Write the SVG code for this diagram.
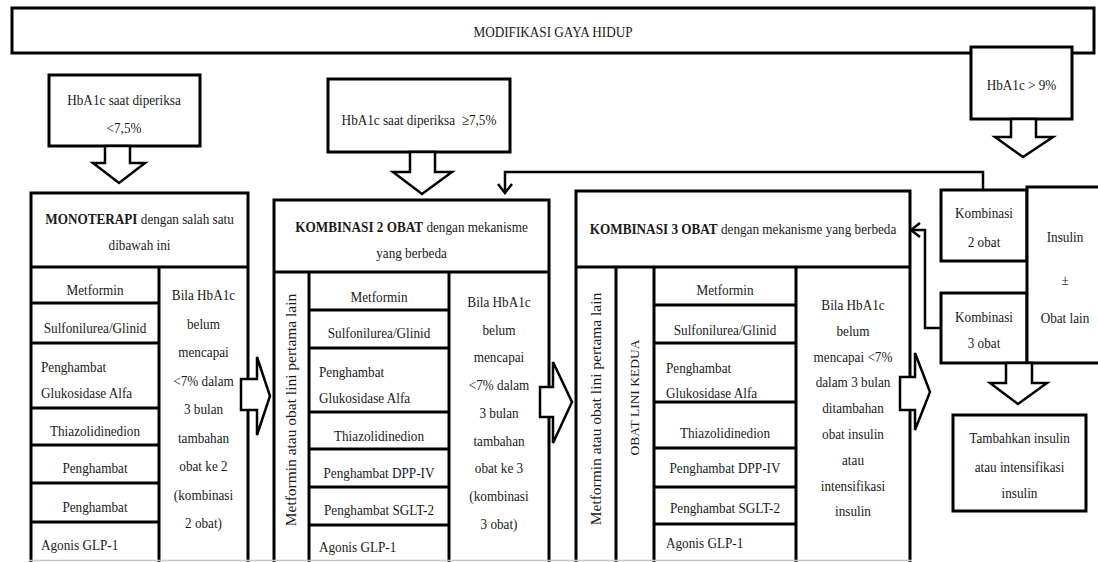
<svg xmlns="http://www.w3.org/2000/svg" width="1098" height="562" viewBox="0 0 1098 562">
<style>
.box{fill:#fff;stroke:#000;stroke-width:3}
.ln{stroke:#000;stroke-width:3;fill:none}
.arr{fill:#fff;stroke:#000;stroke-width:2.5;stroke-linejoin:miter}
.fb{fill:none;stroke:#000;stroke-width:2.5}
text{font-family:"Liberation Serif","Times New Roman",serif;font-size:15px;fill:#1a1a1a;text-anchor:middle}
.l{text-anchor:start}
.b{font-weight:bold}
.v{font-size:15.5px}
.vs{font-size:13.5px}
.pre{white-space:pre}
</style>
<rect x="0" y="0" width="1098" height="562" fill="#fff"/>

<g id="top">
<rect class="box" x="12" y="8" width="1082" height="45"/>
<text transform="translate(553,37) scale(0.88,1)">MODIFIKASI GAYA HIDUP</text>
</g>

<g id="hba-9">
<rect class="box" x="971" y="47" width="101" height="72"/>
<text transform="translate(1021.5,90) scale(0.88,1)">HbA1c &gt; 9%</text>
</g>

<g id="hba-lt">
<rect class="box" x="49" y="75" width="151" height="71"/>
<text transform="translate(124,105) scale(0.88,1)">HbA1c saat diperiksa</text>
<text transform="translate(124,133) scale(0.88,1)">&lt;7,5%</text>
</g>

<g id="hba-ge">
<rect class="box" x="328" y="79" width="182" height="73"/>
<text class="pre" transform="translate(419,125) scale(0.88,1)">HbA1c saat diperiksa  ≥7,5%</text>
</g>

<g id="mono">
<rect class="box" x="31" y="193" width="217" height="375"/>
<text transform="translate(139.5,224) scale(0.88,1)"><tspan class="b">MONOTERAPI</tspan> dengan salah satu</text>
<text transform="translate(139.5,250) scale(0.88,1)">dibawah ini</text>
<text transform="translate(95,295) scale(0.88,1)">Metformin</text>
<text transform="translate(95,333) scale(0.88,1)">Sulfonilurea/Glinid</text>
<text class="l" transform="translate(41,371.7) scale(0.88,1)">Penghambat</text>
<text class="l" transform="translate(41,398) scale(0.88,1)">Glukosidase Alfa</text>
<text transform="translate(95,435.7) scale(0.88,1)">Thiazolidinedion</text>
<text transform="translate(95,473) scale(0.88,1)">Penghambat</text>
<text transform="translate(95,511.7) scale(0.88,1)">Penghambat</text>
<text class="l" transform="translate(41,550) scale(0.88,1)">Agonis GLP-1</text>
<text transform="translate(203.5,300) scale(0.88,1)">Bila HbA1c</text>
<text transform="translate(203.5,328.5) scale(0.88,1)">belum</text>
<text transform="translate(203.5,357) scale(0.88,1)">mencapai</text>
<text transform="translate(203.5,385.5) scale(0.88,1)">&lt;7% dalam</text>
<text transform="translate(203.5,414) scale(0.88,1)">3 bulan</text>
<text transform="translate(203.5,442.5) scale(0.88,1)">tambahan</text>
<text transform="translate(203.5,471) scale(0.88,1)">obat ke 2</text>
<text transform="translate(203.5,499.5) scale(0.88,1)">(kombinasi</text>
<text transform="translate(203.5,528) scale(0.88,1)">2 obat)</text>
<path class="ln" d="M31 267H248M159 267V568M31 303H159M31 343H159M31 408H159M31 445H159M31 483H159M31 522H159"/>
</g>

<g id="komb2">
<rect class="box" x="274" y="200" width="275" height="368"/>
<text transform="translate(411.5,232) scale(0.88,1)"><tspan class="b">KOMBINASI 2 OBAT</tspan> dengan mekanisme</text>
<text transform="translate(411.5,258) scale(0.88,1)">yang berbeda</text>
<text class="v" transform="translate(296,410) scale(0.88,1) rotate(-90)">Metformin atau obat lini pertama lain</text>
<text transform="translate(379,301.7) scale(0.88,1)">Metformin</text>
<text transform="translate(379,338.3) scale(0.88,1)">Sulfonilurea/Glinid</text>
<text class="l" transform="translate(319,376.7) scale(0.88,1)">Penghambat</text>
<text class="l" transform="translate(319,403) scale(0.88,1)">Glukosidase Alfa</text>
<text transform="translate(379,441) scale(0.88,1)">Thiazolidinedion</text>
<text transform="translate(379,478.3) scale(0.88,1)">Penghambat DPP-IV</text>
<text transform="translate(379,515) scale(0.88,1)">Penghambat SGLT-2</text>
<text class="l" transform="translate(319,551.7) scale(0.88,1)">Agonis GLP-1</text>
<text transform="translate(499,307) scale(0.88,1)">Bila HbA1c</text>
<text transform="translate(499,334.7) scale(0.88,1)">belum</text>
<text transform="translate(499,362.4) scale(0.88,1)">mencapai</text>
<text transform="translate(499,390) scale(0.88,1)">&lt;7% dalam</text>
<text transform="translate(499,417.8) scale(0.88,1)">3 bulan</text>
<text transform="translate(499,445.5) scale(0.88,1)">tambahan</text>
<text transform="translate(499,473) scale(0.88,1)">obat ke 3</text>
<text transform="translate(499,501) scale(0.88,1)">(kombinasi</text>
<text transform="translate(499,528.5) scale(0.88,1)">3 obat)</text>
<path class="ln" d="M274 272H549M309 272V568M449 272V568M309 310H449M309 348H449M309 412H449M309 449H449M309 487H449M309 525H449"/>
</g>

<g id="komb3">
<rect class="box" x="576" y="191" width="334" height="377"/>
<text transform="translate(743,234) scale(0.88,1)"><tspan class="b">KOMBINASI 3 OBAT</tspan> dengan mekanisme yang berbeda</text>
<text class="v" transform="translate(600.5,409) scale(0.88,1) rotate(-90)">Metformin atau obat lini pertama lain</text>
<text class="vs" transform="translate(639,397.5) scale(0.88,1) rotate(-90)">OBAT LINI KEDUA</text>
<text transform="translate(725,295) scale(0.88,1)">Metformin</text>
<text transform="translate(725,335) scale(0.88,1)">Sulfonilurea/Glinid</text>
<text class="l" transform="translate(666,373.3) scale(0.88,1)">Penghambat</text>
<text class="l" transform="translate(666,398.3) scale(0.88,1)">Glukosidase Alfa</text>
<text transform="translate(725,438.3) scale(0.88,1)">Thiazolidinedion</text>
<text transform="translate(725,473.3) scale(0.88,1)">Penghambat DPP-IV</text>
<text transform="translate(725,513.3) scale(0.88,1)">Penghambat SGLT-2</text>
<text class="l" transform="translate(666,548.3) scale(0.88,1)">Agonis GLP-1</text>
<text transform="translate(853,310) scale(0.88,1)">Bila HbA1c</text>
<text transform="translate(853,335.8) scale(0.88,1)">belum</text>
<text transform="translate(853,361.6) scale(0.88,1)">mencapai &lt;7%</text>
<text transform="translate(853,387.4) scale(0.88,1)">dalam 3 bulan</text>
<text transform="translate(853,413.2) scale(0.88,1)">ditambahan</text>
<text transform="translate(853,439) scale(0.88,1)">obat insulin</text>
<text transform="translate(853,464.8) scale(0.88,1)">atau</text>
<text transform="translate(853,490.6) scale(0.88,1)">intensifikasi</text>
<text transform="translate(853,516.4) scale(0.88,1)">insulin</text>
<path class="ln" d="M576 267H910M616 267V568M654 267V568M796 267V568M654 305H796M654 343H796M654 402H796M654 448H796M654 487H796M654 524H796"/>
</g>

<g id="k2obat">
<rect class="box" x="941" y="190" width="86" height="71"/>
<text transform="translate(984,218) scale(0.88,1)">Kombinasi</text>
<text transform="translate(984,246.7) scale(0.88,1)">2 obat</text>
</g>

<g id="k3obat">
<rect class="box" x="941" y="293" width="86" height="70"/>
<text transform="translate(984,321.7) scale(0.88,1)">Kombinasi</text>
<text transform="translate(984,348.3) scale(0.88,1)">3 obat</text>
</g>

<g id="insulin">
<rect class="box" x="1027" y="187" width="80" height="176"/>
<text transform="translate(1065,241.7) scale(0.88,1)">Insulin</text>
<text transform="translate(1065,285) scale(0.88,1)">±</text>
<text transform="translate(1065,323) scale(0.88,1)">Obat lain</text>
</g>

<g id="tambah">
<rect class="box" x="953" y="415" width="133" height="96"/>
<text transform="translate(1019.5,443) scale(0.88,1)">Tambahkan insulin</text>
<text transform="translate(1019.5,471.7) scale(0.88,1)">atau intensifikasi</text>
<text transform="translate(1019.5,498.3) scale(0.88,1)">insulin</text>
</g>

<g id="connectors">
<polygon class="arr" points="105,146 130,146 130,163 145,163 119,183 93,163 105,163"/>
<polygon class="arr" points="410,152 435,152 435,172 452,172 422,194 393,172 410,172"/>
<polygon class="arr" points="1011,119 1036,119 1036,137 1053,137 1023,157 995,137 1011,137"/>
<polygon class="arr" points="1006,363 1032,363 1032,383 1047,383 1018,404 990,383 1006,383"/>
<polygon class="arr" points="241,379 257,379 257,357 270,396 257,435 257,410 241,410"/>
<polygon class="arr" points="540,387 553,387 553,362 572,402 553,443 553,417 540,417"/>
<polygon class="arr" points="900,377 915,377 915,353 930,392 915,430 915,410 900,410"/>
<polyline class="fb" points="983,190 983,172 505,172 505,192"/>
<polyline class="fb" points="498,184 505,193 512,184"/>
<polyline class="fb" points="941,328 925,328 925,230 912,230"/>
<polyline class="fb" points="920,223 911,230 920,237"/>
</g>
<line x1="28" y1="560.5" x2="912" y2="560.5" stroke="#c8c8c8" stroke-width="1.5"/>
</svg>
